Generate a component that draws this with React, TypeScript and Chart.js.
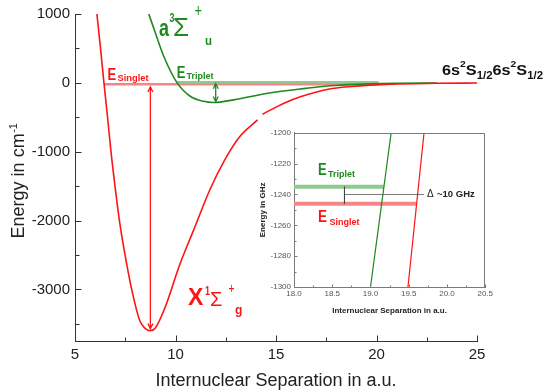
import React, { useEffect, useRef } from "react";
import { Chart, registerables } from "chart.js";

Chart.register(...registerables);

const FONT = "'Liberation Sans', Arial, Helvetica, sans-serif";
const RED = "#ff1414";
const GREEN = "#1e8a1e";
const PINK = "#f38686";
const LIGHTGREEN = "#8dca8d";
const AXIS = "#333333";
const INSET_AXIS = "#7a7a7a";

// ---------------- main chart data ----------------
const xTickValues = [5, 10, 15, 20, 25];
const xMinorTicks = [7.5, 12.5, 17.5, 22.5];
const yTickValues = [1000, 0, -1000, -2000, -3000];
const yMinorTicks = [500, -500, -1500, -2500, -3500];

// X 1Σg+ (singlet) potential, energy in cm^-1 vs separation in a.u.
const singletR = [6.09, 6.27, 6.44, 6.62, 6.79, 6.99, 7.21, 7.49, 7.82, 8.23, 8.5, 8.75, 9.0, 9.5, 10.2, 10.9, 11.7, 12.45, 13.2, 14.08, 14.2, 14.33, 15.4, 16.25, 17.6, 18.75, 20.75, 23.0, 25.0];
const singletE = [1000, 500, 0, -500, -1000, -1500, -2000, -2500, -3000, -3460, -3570, -3600, -3560, -3250, -2650, -2140, -1560, -1120, -780, -538, null, -455, -295, -199, -92, -53, -19, -7, -2];

// a 3Σu+ (triplet) potential
const tripletR = [8.67, 9.0, 9.42, 10.08, 10.75, 11.4, 11.9, 12.9, 14.6, 16.25, 17.9, 19.6, 21.0, 23.0];
const tripletE = [1000, 723, 383, 0, -198, -268, -285, -247, -150, -87, -39, -15, -7, -3];

// bound-state levels drawn as horizontal bars
const singletLevelR = [6.44, 20.1];
const singletLevelE = -22;
const tripletLevelR = [10.08, 20.1];
const tripletLevelE = 8;

// double-headed arrows (depth markers): [singlet, triplet]
const arrowR = [8.75, 12.0];
const arrowTopE = [-60, -12];
const arrowBottomE = [-3570, -272];

// ---------------- inset data ----------------
const insetXTicks = [18.0, 18.5, 19.0, 19.5, 20.0, 20.5];
const insetXMinor = [18.25, 18.75, 19.25, 19.75, 20.25];
const insetYTicks = [-1200, -1220, -1240, -1260, -1280, -1300];
const insetYMinor = [-1210, -1230, -1250, -1270, -1290];

const insetTripletR = [19.0, 19.27];
const insetTripletE = [-1300, -1200];
const insetSingletR = [19.49, 19.7];
const insetSingletE = [-1300, -1200];

const insetTripletLevelR = [18.0, 19.175];
const insetTripletLevelE = -1235;
const insetSingletLevelR = [18.0, 19.6];
const insetSingletLevelE = -1246;

const gapMarkR = [18.66, 18.66];
const gapMarkE = [-1235, -1246];
const gapLineR = [18.66, 19.7];
const gapLineE = -1240;

const INSET_LEFT = 250;
const INSET_TOP = 125;

type Part = { t: string; x: number; y: number; size: number; bold?: boolean; color: string; w?: number };

function drawParts(ctx: CanvasRenderingContext2D, parts: Part[], ox = 0, oy = 0) {
  ctx.save();
  ctx.textAlign = "left";
  ctx.textBaseline = "alphabetic";
  for (const p of parts) {
    ctx.font = `${p.bold ? "bold " : ""}${p.size}px ${FONT}`;
    ctx.fillStyle = p.color;
    if (p.w) ctx.fillText(p.t, p.x - ox, p.y - oy, p.w);
    else ctx.fillText(p.t, p.x - ox, p.y - oy);
  }
  ctx.restore();
}

function seg(ctx: CanvasRenderingContext2D, x1: number, y1: number, x2: number, y2: number) {
  ctx.beginPath();
  ctx.moveTo(x1, y1);
  ctx.lineTo(x2, y2);
  ctx.stroke();
}

function pts(rs: number[], es: (number | null)[]) {
  return rs.map((r, i) => ({ x: r, y: es[i] as number }));
}

function flat(rs: number[], e: number) {
  return rs.map((r) => ({ x: r, y: e }));
}

const mainDecor = {
  id: "mainDecor",
  afterDatasetsDraw(chart: any) {
    const ctx: CanvasRenderingContext2D = chart.ctx;
    const { chartArea } = chart;
    const xs = chart.scales.x;
    const ys = chart.scales.y;
    ctx.save();
    ctx.strokeStyle = AXIS;
    ctx.lineWidth = 1;
    const b = Math.round(chartArea.bottom) + 0.5;
    const l = Math.round(chartArea.left) + 0.5;
    for (const v of xTickValues) {
      const px = Math.round(xs.getPixelForValue(v)) + 0.5;
      seg(ctx, px, b, px, b - 6);
    }
    for (const v of xMinorTicks) {
      const px = Math.round(xs.getPixelForValue(v)) + 0.5;
      seg(ctx, px, b, px, b - 4);
    }
    for (const v of yTickValues) {
      const py = Math.round(ys.getPixelForValue(v)) + 0.5;
      seg(ctx, l, py, l + 6, py);
    }
    for (const v of yMinorTicks) {
      const py = Math.round(ys.getPixelForValue(v)) + 0.5;
      seg(ctx, l, py, l + 4, py);
    }

    // arrows
    const colors = [RED, GREEN];
    for (let i = 0; i < arrowR.length; i++) {
      const x = xs.getPixelForValue(arrowR[i]);
      const y1 = ys.getPixelForValue(arrowTopE[i]);
      const y2 = ys.getPixelForValue(arrowBottomE[i]);
      ctx.strokeStyle = colors[i];
      ctx.lineWidth = 1.3;
      seg(ctx, x, y1, x, y2);
      ctx.beginPath();
      ctx.moveTo(x - 2.5, y1 + 5);
      ctx.lineTo(x, y1);
      ctx.lineTo(x + 2.5, y1 + 5);
      ctx.moveTo(x - 2.5, y2 - 5);
      ctx.lineTo(x, y2);
      ctx.lineTo(x + 2.5, y2 - 5);
      ctx.stroke();
    }

    // y axis title with superscript
    ctx.save();
    ctx.translate(24, 181);
    ctx.rotate(-Math.PI / 2);
    ctx.fillStyle = "#222";
    ctx.textBaseline = "alphabetic";
    ctx.textAlign = "left";
    const main = "Energy in cm";
    const sup = "-1";
    ctx.font = `18px ${FONT}`;
    const w1 = ctx.measureText(main).width;
    ctx.font = `11px ${FONT}`;
    const w2 = ctx.measureText(sup).width;
    const start = -(w1 + w2) / 2;
    ctx.font = `18px ${FONT}`;
    ctx.fillText(main, start, 0);
    ctx.font = `11px ${FONT}`;
    ctx.fillText(sup, start + w1 + 0.5, -7);
    ctx.restore();

    // labels
    drawParts(ctx, [
      { t: "E", x: 107.5, y: 80, size: 16, bold: true, color: RED, w: 8.7 },
      { t: "Singlet", x: 117.5, y: 80.5, size: 9.5, bold: true, color: RED, w: 31 },
      { t: "E", x: 176.7, y: 78.3, size: 16, bold: true, color: GREEN, w: 8.7 },
      { t: "Triplet", x: 186.5, y: 78.5, size: 9.5, bold: true, color: GREEN, w: 27 },
      { t: "a", x: 159, y: 36, size: 24, bold: true, color: GREEN, w: 10 },
      { t: "3", x: 169.5, y: 22, size: 13, bold: true, color: GREEN, w: 5 },
      { t: "\u03A3", x: 173, y: 36, size: 26, color: GREEN, w: 17 },
      { t: "+", x: 194.5, y: 17, size: 18, color: GREEN, w: 7.5 },
      { t: "u", x: 205, y: 45, size: 13.5, bold: true, color: GREEN, w: 7 },
      { t: "X", x: 188, y: 305, size: 23, bold: true, color: RED, w: 15.5 },
      { t: "1", x: 205, y: 295, size: 12, bold: true, color: RED, w: 5 },
      { t: "\u03A3", x: 210, y: 306, size: 20, color: RED, w: 16.5 },
      { t: "+", x: 228.5, y: 292.5, size: 15, color: RED, w: 6 },
      { t: "g", x: 235, y: 314, size: 12, bold: true, color: RED, w: 8 },
    ]);

    // asymptote label 6s2S1/2 6s2S1/2 (sequential, fitted to its width)
    ctx.save();
    ctx.fillStyle = "#111";
    ctx.textBaseline = "alphabetic";
    const seq: [string, number, number][] = [
      ["6s", 15, 0], ["2", 9.5, -8.5], ["S", 15, 0], ["1/2", 10.5, 3.5],
      ["6s", 15, 0], ["2", 9.5, -8.5], ["S", 15, 0], ["1/2", 10.5, 3.5],
    ];
    let total = 0;
    for (const [t, s] of seq) {
      ctx.font = `bold ${s}px ${FONT}`;
      total += ctx.measureText(t).width;
    }
    const sx = 101 / total;
    ctx.translate(442, 75);
    ctx.scale(sx, 1);
    let cx = 0;
    for (const [t, s, dy] of seq) {
      ctx.font = `bold ${s}px ${FONT}`;
      ctx.fillText(t, cx, dy);
      cx += ctx.measureText(t).width;
    }
    ctx.restore();

    ctx.restore();
  },
};

const insetDecor = {
  id: "insetDecor",
  afterDatasetsDraw(chart: any) {
    const ctx: CanvasRenderingContext2D = chart.ctx;
    const { chartArea } = chart;
    const xs = chart.scales.x;
    const ys = chart.scales.y;
    ctx.save();
    ctx.strokeStyle = INSET_AXIS;
    ctx.lineWidth = 1;
    const t = Math.round(chartArea.top) + 0.5;
    const r = Math.round(chartArea.right) - 0.5;
    const b = Math.round(chartArea.bottom) + 0.5;
    const l = Math.round(chartArea.left) + 0.5;
    seg(ctx, l, t, r, t);
    seg(ctx, r, t, r, b);
    for (const v of insetXTicks) {
      const px = Math.round(xs.getPixelForValue(v)) + 0.5;
      seg(ctx, px, b, px, b - 3);
    }
    for (const v of insetXMinor) {
      const px = Math.round(xs.getPixelForValue(v)) + 0.5;
      seg(ctx, px, b, px, b - 2);
    }
    for (const v of insetYTicks) {
      const py = Math.round(ys.getPixelForValue(v)) + 0.5;
      seg(ctx, l, py, l + 3, py);
    }
    for (const v of insetYMinor) {
      const py = Math.round(ys.getPixelForValue(v)) + 0.5;
      seg(ctx, l, py, l + 2, py);
    }
    drawParts(
      ctx,
      [
        { t: "E", x: 318, y: 175, size: 16, bold: true, color: GREEN, w: 8.7 },
        { t: "Triplet", x: 328, y: 177, size: 9.5, bold: true, color: GREEN, w: 27 },
        { t: "E", x: 318, y: 221.7, size: 16, bold: true, color: RED, w: 9 },
        { t: "Singlet", x: 329.5, y: 224.5, size: 9.5, bold: true, color: RED, w: 30 },
        { t: "\u0394", x: 427, y: 196.5, size: 10, color: "#222" },
        { t: "~10 GHz", x: 437, y: 196.5, size: 9.5, bold: true, color: "#222" },
      ],
      INSET_LEFT,
      INSET_TOP
    );
    ctx.restore();
  },
};

export default function App() {
  const mainRef = useRef<HTMLCanvasElement | null>(null);
  const insetRef = useRef<HTMLCanvasElement | null>(null);

  useEffect(() => {
    if (!mainRef.current || !insetRef.current) return;
    const common = {
      responsive: false,
      animation: false as const,
      events: [] as any[],
      plugins: { legend: { display: false }, tooltip: { enabled: false } },
      elements: { point: { radius: 0 } },
    };

    const mainChart = new Chart(mainRef.current, {
      type: "scatter",
      data: {
        datasets: [
          {
            data: pts(singletR, singletE),
            showLine: true,
            borderColor: RED,
            borderWidth: 1.6,
            cubicInterpolationMode: "monotone",
            spanGaps: false,
            order: 1,
          },
          {
            data: pts(tripletR, tripletE),
            showLine: true,
            borderColor: GREEN,
            borderWidth: 1.6,
            cubicInterpolationMode: "monotone",
            order: 2,
          },
          {
            data: flat(tripletLevelR, tripletLevelE),
            showLine: true,
            borderColor: LIGHTGREEN,
            borderWidth: 2.5,
            order: 3,
          },
          {
            data: flat(singletLevelR, singletLevelE),
            showLine: true,
            borderColor: PINK,
            borderWidth: 2.5,
            order: 4,
          },
        ] as any,
      },
      options: {
        ...common,
        layout: { padding: { left: 0, top: 14, right: 68, bottom: 0 } },
        scales: {
          x: {
            type: "linear",
            min: 5,
            max: 25,
            afterBuildTicks: (s: any) => {
              s.ticks = xTickValues.map((v) => ({ value: v }));
            },
            afterFit: (s: any) => {
              s.height = 49;
            },
            ticks: {
              autoSkip: false,
              maxRotation: 0,
              padding: 5,
              color: "#222",
              font: { family: FONT, size: 15 },
              callback: (v: any) => String(v),
            },
            grid: { display: false, drawTicks: false },
            border: { display: true, color: AXIS, width: 1 },
            title: {
              display: true,
              text: "Internuclear Separation in a.u.",
              color: "#222",
              font: { family: FONT, size: 18, lineHeight: 1 },
              padding: { top: 0, bottom: 0 },
            },
          },
          y: {
            type: "linear",
            min: -3750,
            max: 1000,
            afterBuildTicks: (s: any) => {
              s.ticks = yTickValues.map((v) => ({ value: v }));
            },
            afterFit: (s: any) => {
              s.width = 75;
            },
            ticks: {
              autoSkip: false,
              padding: 5,
              color: "#222",
              font: { family: FONT, size: 15 },
              callback: (v: any) => String(v),
            },
            grid: { display: false, drawTicks: false },
            border: { display: true, color: AXIS, width: 1 },
          },
        },
      } as any,
      plugins: [mainDecor],
    });

    const insetChart = new Chart(insetRef.current, {
      type: "scatter",
      data: {
        datasets: [
          {
            data: pts(insetSingletR, insetSingletE),
            showLine: true,
            borderColor: RED,
            borderWidth: 1.2,
            order: 1,
          },
          {
            data: pts(insetTripletR, insetTripletE),
            showLine: true,
            borderColor: GREEN,
            borderWidth: 1.2,
            order: 2,
          },
          {
            data: flat(insetTripletLevelR, insetTripletLevelE),
            showLine: true,
            borderColor: LIGHTGREEN,
            borderWidth: 4,
            order: 3,
          },
          {
            data: flat(insetSingletLevelR, insetSingletLevelE),
            showLine: true,
            borderColor: PINK,
            borderWidth: 4,
            order: 4,
          },
          {
            data: pts(gapMarkR, gapMarkE),
            showLine: true,
            borderColor: "#444",
            borderWidth: 1,
            order: 0,
          },
          {
            data: flat(gapLineR, gapLineE),
            showLine: true,
            borderColor: "#555",
            borderWidth: 0.8,
            order: 0,
          },
        ] as any,
      },
      options: {
        ...common,
        layout: { padding: { left: 0, top: 6, right: 8, bottom: 0 } },
        scales: {
          x: {
            type: "linear",
            min: 18,
            max: 20.5,
            afterBuildTicks: (s: any) => {
              s.ticks = insetXTicks.map((v) => ({ value: v }));
            },
            afterFit: (s: any) => {
              s.height = 38;
            },
            ticks: {
              autoSkip: false,
              maxRotation: 0,
              padding: 2,
              color: "#555",
              font: { family: FONT, size: 8 },
              callback: (v: any) => Number(v).toFixed(1),
            },
            grid: { display: false, drawTicks: false },
            border: { display: true, color: INSET_AXIS, width: 1 },
            title: {
              display: true,
              text: "Internuclear Separation in a.u.",
              color: "#222",
              font: { family: FONT, size: 8, weight: "bold", lineHeight: 1 },
              padding: { top: 0, bottom: 10 },
            },
          },
          y: {
            type: "linear",
            min: -1300,
            max: -1200,
            afterBuildTicks: (s: any) => {
              s.ticks = insetYTicks.map((v) => ({ value: v }));
            },
            afterFit: (s: any) => {
              s.width = 44;
            },
            ticks: {
              autoSkip: false,
              padding: 3,
              color: "#555",
              font: { family: FONT, size: 8 },
              callback: (v: any) => String(v),
            },
            grid: { display: false, drawTicks: false },
            border: { display: true, color: INSET_AXIS, width: 1 },
            title: {
              display: true,
              text: "Energy in GHz",
              color: "#222",
              font: { family: FONT, size: 8, weight: "bold", lineHeight: 1 },
              padding: { top: 9, bottom: 0 },
            },
          },
        },
      } as any,
      plugins: [insetDecor],
    });

    return () => {
      mainChart.destroy();
      insetChart.destroy();
    };
  }, []);

  return (
    <div style={{ position: "fixed", left: 0, top: 0, width: 545, height: 390, background: "#fff" }}>
      <canvas ref={mainRef} width={545} height={390} style={{ position: "absolute", left: 0, top: 0, width: 545, height: 390, display: "block" }} />
      <canvas
        ref={insetRef}
        width={245}
        height={200}
        style={{ position: "absolute", left: INSET_LEFT, top: INSET_TOP, width: 245, height: 200, display: "block" }}
      />
    </div>
  );
}
